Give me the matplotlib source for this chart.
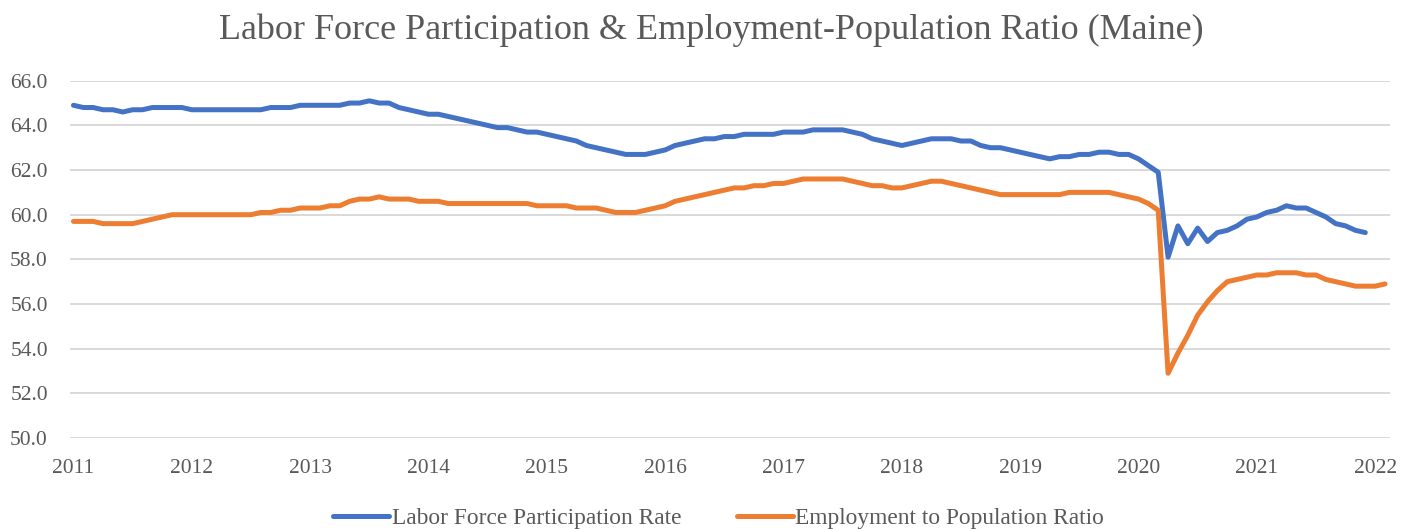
import matplotlib
matplotlib.use("Agg")
import matplotlib.pyplot as plt

# monthly values, Jan 2011 onwards
years = ["2011", "2012", "2013", "2014", "2015", "2016", "2017", "2018", "2019", "2020", "2021", "2022"]

lfpr = [
    64.9, 64.8, 64.8, 64.7, 64.7, 64.6, 64.7, 64.7, 64.8, 64.8, 64.8, 64.8,
    64.7, 64.7, 64.7, 64.7, 64.7, 64.7, 64.7, 64.7, 64.8, 64.8, 64.8, 64.9,
    64.9, 64.9, 64.9, 64.9, 65.0, 65.0, 65.1, 65.0, 65.0, 64.8, 64.7, 64.6,
    64.5, 64.5, 64.4, 64.3, 64.2, 64.1, 64.0, 63.9, 63.9, 63.8, 63.7, 63.7,
    63.6, 63.5, 63.4, 63.3, 63.1, 63.0, 62.9, 62.8, 62.7, 62.7, 62.7, 62.8,
    62.9, 63.1, 63.2, 63.3, 63.4, 63.4, 63.5, 63.5, 63.6, 63.6, 63.6, 63.6,
    63.7, 63.7, 63.7, 63.8, 63.8, 63.8, 63.8, 63.7, 63.6, 63.4, 63.3, 63.2,
    63.1, 63.2, 63.3, 63.4, 63.4, 63.4, 63.3, 63.3, 63.1, 63.0, 63.0, 62.9,
    62.8, 62.7, 62.6, 62.5, 62.6, 62.6, 62.7, 62.7, 62.8, 62.8, 62.7, 62.7,
    62.5, 62.2, 61.9, 58.1, 59.5, 58.7, 59.4, 58.8, 59.2, 59.3, 59.5, 59.8,
    59.9, 60.1, 60.2, 60.4, 60.3, 60.3, 60.1, 59.9, 59.6, 59.5, 59.3, 59.2,
]

epop = [
    59.7, 59.7, 59.7, 59.6, 59.6, 59.6, 59.6, 59.7, 59.8, 59.9, 60.0, 60.0,
    60.0, 60.0, 60.0, 60.0, 60.0, 60.0, 60.0, 60.1, 60.1, 60.2, 60.2, 60.3,
    60.3, 60.3, 60.4, 60.4, 60.6, 60.7, 60.7, 60.8, 60.7, 60.7, 60.7, 60.6,
    60.6, 60.6, 60.5, 60.5, 60.5, 60.5, 60.5, 60.5, 60.5, 60.5, 60.5, 60.4,
    60.4, 60.4, 60.4, 60.3, 60.3, 60.3, 60.2, 60.1, 60.1, 60.1, 60.2, 60.3,
    60.4, 60.6, 60.7, 60.8, 60.9, 61.0, 61.1, 61.2, 61.2, 61.3, 61.3, 61.4,
    61.4, 61.5, 61.6, 61.6, 61.6, 61.6, 61.6, 61.5, 61.4, 61.3, 61.3, 61.2,
    61.2, 61.3, 61.4, 61.5, 61.5, 61.4, 61.3, 61.2, 61.1, 61.0, 60.9, 60.9,
    60.9, 60.9, 60.9, 60.9, 60.9, 61.0, 61.0, 61.0, 61.0, 61.0, 60.9, 60.8,
    60.7, 60.5, 60.2, 52.9, 53.8, 54.6, 55.5, 56.1, 56.6, 57.0, 57.1, 57.2,
    57.3, 57.3, 57.4, 57.4, 57.4, 57.3, 57.3, 57.1, 57.0, 56.9, 56.8, 56.8,
    56.8, 56.9,
]

plt.rcParams["font.family"] = ["Liberation Serif", "DejaVu Serif"]
text_color = "#595959"

fig = plt.figure(figsize=(14.15, 5.29), dpi=100)
ax = fig.add_axes([0.0495, 0.172, 0.9328, 0.6754])

ax.plot(range(len(lfpr)), lfpr, color="#4472C4", linewidth=3.6,
        label="Labor Force Participation Rate", solid_capstyle="round", solid_joinstyle="round")
ax.plot(range(len(epop)), epop, color="#ED7D31", linewidth=3.6,
        label="Employment to Population Ratio", solid_capstyle="round", solid_joinstyle="round")

ax.set_ylim(50, 66)
ax.set_yticks(range(50, 67, 2))
ax.set_yticklabels([f"{v:.1f}" for v in range(50, 67, 2)])
ax.set_xlim(-0.35, 133.5)
ax.set_xticks(range(0, 12 * len(years), 12))
ax.set_xticklabels(years)

ax.grid(axis="y", color="#D9D9D9", linewidth=1.4)
ax.set_axisbelow(True)
for s in ax.spines.values():
    s.set_visible(False)
ax.tick_params(axis="both", length=0, labelsize=15.5, labelcolor=text_color)
ax.tick_params(axis="x", pad=15)
ax.tick_params(axis="y", pad=16)

fig.text(0.503, 0.943, "Labor Force Participation & Employment-Population Ratio (Maine)",
         ha="center", va="center", fontsize=26, color=text_color)

fig.legend(loc="center", bbox_to_anchor=(0.508, 0.02), ncol=2, frameon=False,
           fontsize=16.8, labelcolor=text_color, handlelength=2.4, handletextpad=0.1,
           columnspacing=2.4)

fig.savefig("out.png", dpi=100)
